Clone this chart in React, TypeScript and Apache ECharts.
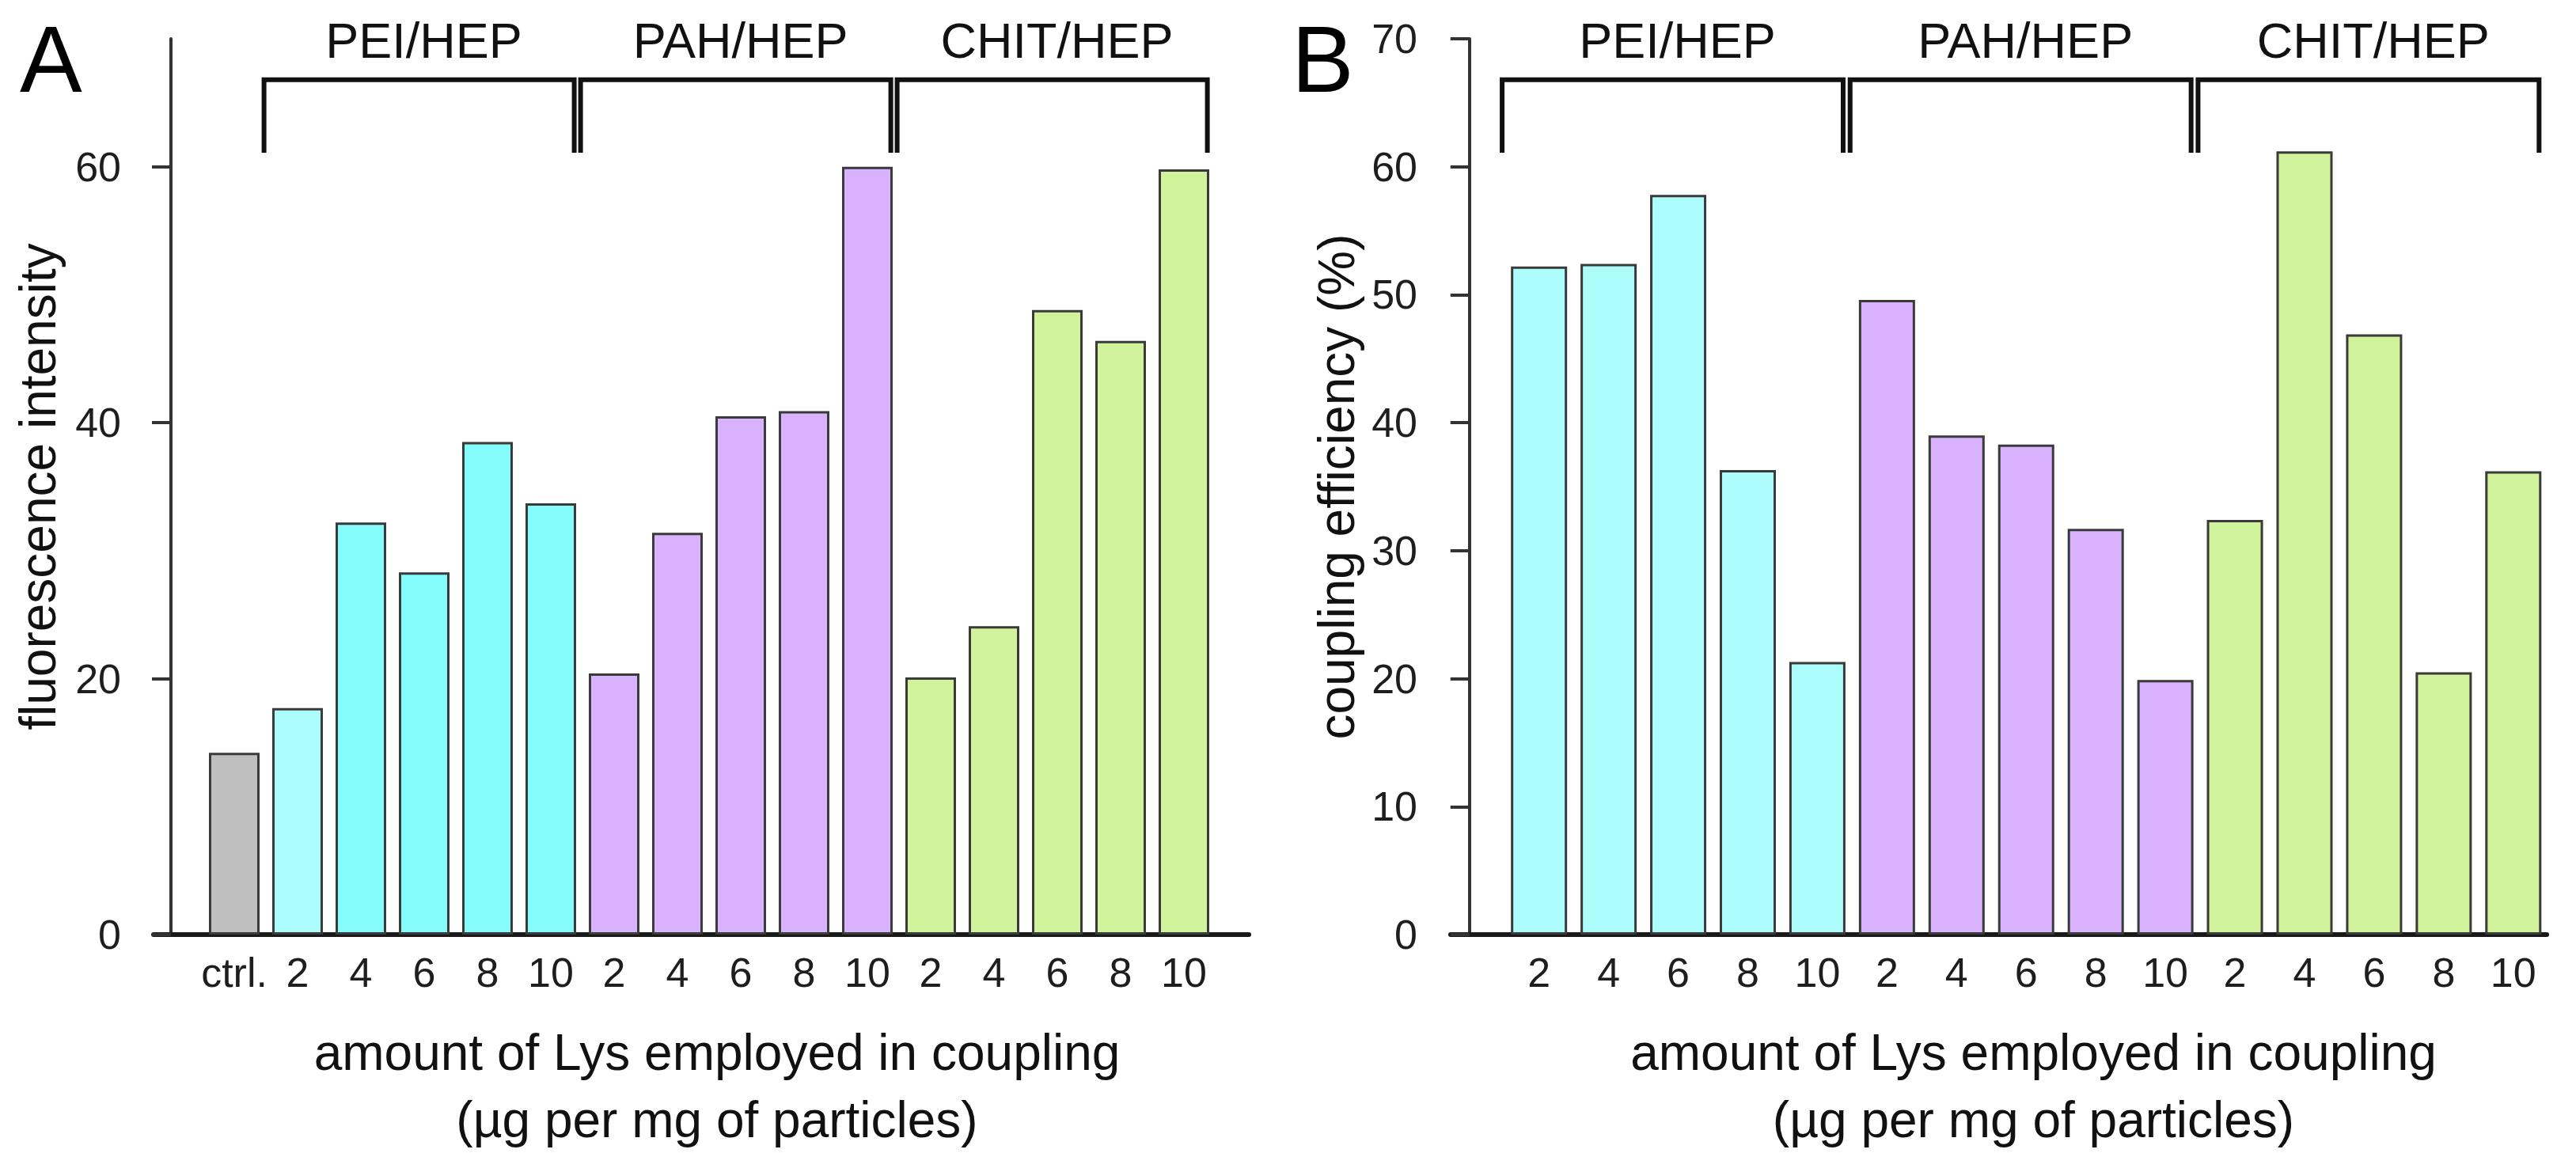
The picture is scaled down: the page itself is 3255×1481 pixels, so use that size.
import React, { useEffect, useRef } from "react";
import * as echarts from "echarts";

// ---- data -------------------------------------------------------------
const groupNames = ["PEI/HEP", "PAH/HEP", "CHIT/HEP"];
const doseLabels = ["2", "4", "6", "8", "10"];

// Panel A: fluorescence of particles (control + three polyelectrolyte pairs)
const categoriesA = ["ctrl.", ...doseLabels, ...doseLabels, ...doseLabels];
const fluorescence = [
  14.2, 17.7, 32.2, 28.3, 38.5, 33.7, 20.4, 31.4, 40.5, 40.9, 60.0, 20.1, 24.1,
  48.8, 46.4, 59.8,
];

// Panel B: coupling efficiency
const categoriesB = [...doseLabels, ...doseLabels, ...doseLabels];
const efficiency = [
  52.2, 52.4, 57.8, 36.3, 21.3, 49.6, 39.0, 38.3, 31.7, 19.9, 32.4, 61.2, 46.9,
  20.5, 36.2,
];

const yTicksA = [0, 20, 40, 60];
const yTicksB = [0, 10, 20, 30, 40, 50, 60, 70];

// first / last bar position (1-based) of each bracketed group
const groupSpansA = [
  [2, 6],
  [7, 11],
  [12, 16],
];
const groupSpansB = [
  [1, 5],
  [6, 10],
  [11, 15],
];

// ---- styles -----------------------------------------------------------
const FONT = "'Liberation Sans', Arial, Helvetica, sans-serif";
const CTRL = "#bfbfbf";
const CYAN_LIGHT = "#acfcfc";
const CYAN = "#84fcfc";
const VIOLET = "#d8b2fc";
const LIME = "#cff29a";
const colorsA = [
  CTRL, CYAN_LIGHT, CYAN, CYAN, CYAN, CYAN,
  VIOLET, VIOLET, VIOLET, VIOLET, VIOLET,
  LIME, LIME, LIME, LIME, LIME,
];
const colorsB = [
  CYAN_LIGHT, CYAN_LIGHT, CYAN_LIGHT, CYAN_LIGHT, CYAN_LIGHT,
  VIOLET, VIOLET, VIOLET, VIOLET, VIOLET,
  LIME, LIME, LIME, LIME, LIME,
];

const BRACKET_TOP = 66.8;
const BRACKET_FOOT = 61.1;
const GROUP_LABEL_Y = 69.9;

function bracketSeries(spans: number[][], xAxisIndex: number) {
  return {
    type: "custom",
    xAxisIndex,
    yAxisIndex: xAxisIndex,
    clip: false,
    silent: true,
    data: spans.map((s, i) => [s[0], s[1], i]),
    renderItem: (params: any, api: any) => {
      const l = api.value(0) - 0.53;
      const r = api.value(1) + 0.37;
      const p1 = api.coord([l, BRACKET_FOOT]);
      const p2 = api.coord([l, BRACKET_TOP]);
      const p3 = api.coord([r, BRACKET_TOP]);
      const p4 = api.coord([r, BRACKET_FOOT]);
      const mid = api.coord([(l + r) / 2, GROUP_LABEL_Y]);
      return {
        type: "group",
        children: [
          {
            type: "polyline",
            shape: { points: [p1, p2, p3, p4] },
            style: { stroke: "#111", lineWidth: 6, fill: "none", lineJoin: "miter" },
          },
          {
            type: "text",
            x: mid[0] + 6,
            y: mid[1],
            style: {
              text: groupNames[params.dataIndex],
              fontSize: 63,
              fontFamily: FONT,
              fill: "#111",
              align: "center",
              verticalAlign: "middle",
            },
          },
        ],
      };
    },
  };
}

function xAxisFor(
  labels: string[],
  gridIndex: number,
  min: number,
  max: number,
  shift: number
) {
  return {
    type: "value",
    gridIndex,
    min,
    max,
    splitLine: { show: false },
    axisLine: { show: true, onZero: true, lineStyle: { color: "#1a1a1a", width: 6 } },
    axisTick: { show: false },
    axisLabel: {
      customValues: labels.map((_, i) => i + 1),
      formatter: (v: number) => labels[Math.round(v) - 1] ?? "",
      fontSize: 52,
      fontFamily: FONT,
      color: "#1e1e1e",
      margin: 22,
    },
    name: "amount of Lys employed in coupling\n(\u00b5g per mg of particles)",
    nameLocation: "middle",
    nameGap: 106,
    nameTextStyle: {
      fontSize: 64,
      lineHeight: 85,
      fontFamily: FONT,
      color: "#111",
      padding: [0, 0, 0, shift],
    },
  };
}

function yAxisFor(
  gridIndex: number,
  ticks: number[],
  name: string,
  margin: number,
  nameGap: number
) {
  return {
    type: "value",
    gridIndex,
    min: 0,
    max: 70,
    splitLine: { show: false },
    axisLine: { show: true, onZero: true, lineStyle: { color: "#333", width: 4 } },
    axisTick: {
      show: true,
      inside: false,
      length: 24,
      customValues: ticks,
      lineStyle: { color: "#333", width: 4 },
    },
    axisLabel: {
      customValues: ticks,
      fontSize: 52,
      fontFamily: FONT,
      color: "#1e1e1e",
      margin,
    },
    name,
    nameLocation: "middle",
    nameGap,
    nameTextStyle: { fontSize: 64, fontFamily: FONT, color: "#111" },
  };
}

export default function App() {
  const ref = useRef<HTMLDivElement>(null);

  useEffect(() => {
    if (!ref.current) return;
    const chart = echarts.init(ref.current, undefined, { renderer: "svg" });
    chart.setOption({
      animation: false,
      backgroundColor: "#ffffff",
      textStyle: { fontFamily: FONT },
      grid: [
        { left: 194, top: 49, width: 1384, height: 1132 },
        { left: 1833, top: 49, width: 1385, height: 1132 },
      ],
      xAxis: [
        xAxisFor(categoriesA, 0, -0.275, 17.025, 40),
        xAxisFor(categoriesB, 1, -0.27, 15.48, 88),
      ],
      yAxis: [
        yAxisFor(0, yTicksA, "fluorescence intensity", 41, 114),
        yAxisFor(1, yTicksB, "coupling efficiency (%)", 42, 112),
      ],
      series: [
        {
          type: "bar",
          xAxisIndex: 0,
          yAxisIndex: 0,
          barWidth: 64,
          itemStyle: { borderColor: "#3a3a3a", borderWidth: 3 },
          data: fluorescence.map((v, i) => ({
            value: [i + 1, v],
            itemStyle: { color: colorsA[i] },
          })),
        },
        {
          type: "bar",
          xAxisIndex: 1,
          yAxisIndex: 1,
          barWidth: 71,
          itemStyle: { borderColor: "#3a3a3a", borderWidth: 3 },
          data: efficiency.map((v, i) => ({
            value: [i + 1, v],
            itemStyle: { color: colorsB[i] },
          })),
        },
        bracketSeries(groupSpansA, 0),
        bracketSeries(groupSpansB, 1),
      ],
      graphic: [
        {
          type: "text",
          left: 25,
          top: 16,
          style: { text: "A", fontSize: 118, fontFamily: FONT, fill: "#000" },
        },
        {
          type: "text",
          left: 1632,
          top: 16,
          style: { text: "B", fontSize: 118, fontFamily: FONT, fill: "#000" },
        },
      ],
    });
    return () => chart.dispose();
  }, []);

  return (
    <div
      ref={ref}
      style={{
        position: "fixed",
        left: 0,
        top: 0,
        width: 3255,
        height: 1481,
        background: "#fff",
      }}
    />
  );
}
